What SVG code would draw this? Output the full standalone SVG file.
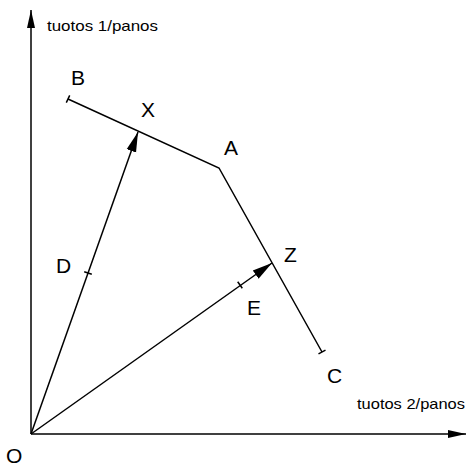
<svg xmlns="http://www.w3.org/2000/svg" width="471" height="466" viewBox="0 0 471 466">
<style>
.ln{stroke:#000;stroke-width:1.5;fill:none}
.lbl{font-family:"Liberation Sans",Arial,sans-serif;font-size:21px;fill:#000}
.ax{font-family:"Liberation Sans",Arial,sans-serif;font-size:15px;fill:#000}
</style>
<defs>
<marker id="ah" markerUnits="userSpaceOnUse" markerWidth="22" markerHeight="12" refX="20" refY="5" orient="auto" viewBox="0 0 22 10">
<path d="M0,0 L20,5 L0,10 Z" fill="#000"/>
</marker>
<marker id="axh" markerUnits="userSpaceOnUse" markerWidth="20" markerHeight="10" refX="18" refY="4" orient="auto" viewBox="0 0 20 8">
<path d="M0,0 L18,4 L0,8 Z" fill="#000"/>
</marker>
</defs>
<g id="connectors">
<line class="ln" x1="31" y1="434" x2="31" y2="10" marker-end="url(#axh)"/>
<line class="ln" x1="31" y1="434" x2="466" y2="434" marker-end="url(#axh)"/>
<line class="ln" x1="31" y1="434" x2="138" y2="132" marker-end="url(#ah)"/>
<line class="ln" x1="31" y1="434" x2="272" y2="263" marker-end="url(#ah)"/>
<polyline class="ln" points="68,99 219,168 322,352"/>
<line class="ln" x1="66.3" y1="102.6" x2="69.7" y2="95.4"/>
<line class="ln" x1="318.5" y1="353.9" x2="325.5" y2="350.1"/>
<line class="ln" x1="84.2" y1="271.7" x2="91.8" y2="274.3"/>
<line class="ln" x1="237.7" y1="281.7" x2="242.3" y2="288.3"/>
</g>
<g id="axis-y"><text class="ax" x="47" y="31" textLength="111" lengthAdjust="spacingAndGlyphs">tuotos 1/panos</text></g>
<g id="axis-x"><text class="ax" x="357" y="409" textLength="108" lengthAdjust="spacingAndGlyphs">tuotos 2/panos</text></g>
<g id="node-B"><text class="lbl" x="71" y="85">B</text></g>
<g id="node-X"><text class="lbl" x="141" y="117">X</text></g>
<g id="node-A"><text class="lbl" x="224" y="155">A</text></g>
<g id="node-Z"><text class="lbl" x="284" y="262">Z</text></g>
<g id="node-E"><text class="lbl" x="247" y="315">E</text></g>
<g id="node-C"><text class="lbl" x="327" y="383">C</text></g>
<g id="node-D"><text class="lbl" x="56" y="273">D</text></g>
<g id="node-O"><text class="lbl" x="6" y="463">O</text></g>
</svg>
